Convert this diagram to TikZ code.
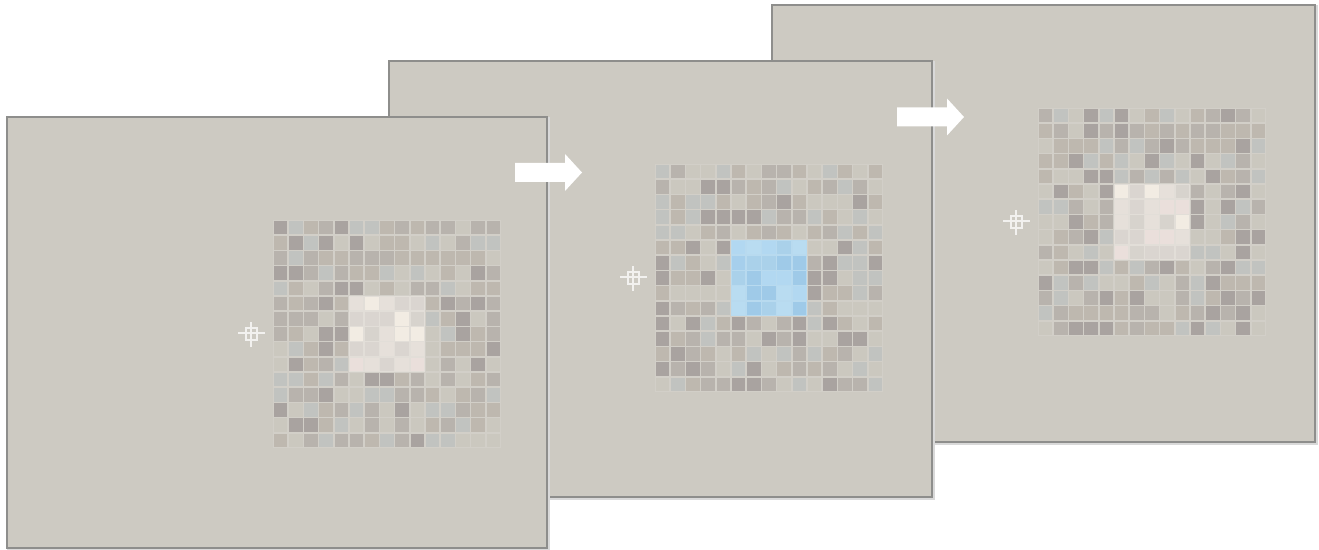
\documentclass[tikz,border=0pt]{standalone}
\usepackage{xcolor}
\usepackage{tikz}
\usetikzlibrary{calc}
\definecolor{panelbg}{HTML}{CDCAC2}
\definecolor{panelline}{HTML}{8E8E8C}
\definecolor{gridbase}{HTML}{D2CFC8}
\definecolor{tile1}{HTML}{A9A3A0}
\definecolor{tile2}{HTML}{B8B3AD}
\definecolor{tile3}{HTML}{C1C3C0}
\definecolor{tile4}{HTML}{BEB8AF}
\definecolor{tile5}{HTML}{CBC8BF}
\definecolor{warmbase}{HTML}{E2DED8}
\definecolor{warm1}{HTML}{DAD5D0}
\definecolor{warm2}{HTML}{E6E0DA}
\definecolor{warm3}{HTML}{F2ECE3}
\definecolor{warm4}{HTML}{EADFDB}
\definecolor{warm5}{HTML}{D7D3CD}
\definecolor{bluebase}{HTML}{B8DAEF}
\definecolor{blue1}{HTML}{A6CFEC}
\definecolor{blue2}{HTML}{B2D8F1}
\definecolor{blue3}{HTML}{9FCAE8}
\definecolor{blue4}{HTML}{B9DCF1}
\definecolor{blue5}{HTML}{AAD1EA}
\tikzset{
    panel/.style={
        draw=panelline,
        fill=panelbg,
        line width=1.1pt
    },
    panelshadow/.style={
        draw=black!15,
        line width=1.4pt
    },
    crosshair/.style={
        draw=white,
        opacity=0.75,
        line width=0.7pt
    },
    blockarrow/.pic={
        \fill[white] (0,-9.5) -- (50,-9.5) -- (50,-18.5) -- (67,0)
            -- (50,18.5) -- (50,9.5) -- (0,9.5) -- cycle;
    }
}
% panel: x, y, width, height, seed, centre tint
\newcommand\drawpanel[6]{%
    \draw[panelshadow] (#1+1.5,#2+1.5) rectangle ++(#3,#4);
    \draw[panel] (#1,#2) rectangle ++(#3,#4);
    \begin{scope}[shift={(#1+266,#2+103)}]
        \pgfmathsetseed{#5}
        \fill[gridbase] (0,0) rectangle (228,228);
        \fill[#6base] (76,76) rectangle (152,152);
        \foreach \i in {0,...,14}{
            \foreach \j in {0,...,14}{
                \pgfmathrandominteger{\k}{1}{5}
                \def\tint{tile}
                \ifnum\i>4 \ifnum\i<10 \ifnum\j>4 \ifnum\j<10 \def\tint{#6}\fi\fi\fi\fi
                \fill[\tint\k] (\i*15.2+0.8,\j*15.2+0.8) rectangle ++(13.6,13.6);
            }
        }
    \end{scope}
    \draw[crosshair] (#1+239,#2+211) rectangle (#1+250,#2+223)
        (#1+231,#2+216) -- (#1+258,#2+216)
        (#1+244,#2+205) -- (#1+244,#2+230);
}

\begin{document}
\begin{tikzpicture}[x=0.02cm, y=-0.02cm]
    \useasboundingbox (0,0) rectangle (1319,550);
    \fill[white] (0,0) rectangle (1319,550);

    \drawpanel{772}{5}{543}{437}{31}{warm}
    \drawpanel{389}{61}{543}{436}{17}{blue}
    \drawpanel{7}{117}{540}{431}{5}{warm}

    \pic at (515,172.5) {blockarrow};
    \pic at (897,117) {blockarrow};
\end{tikzpicture}
\end{document}
